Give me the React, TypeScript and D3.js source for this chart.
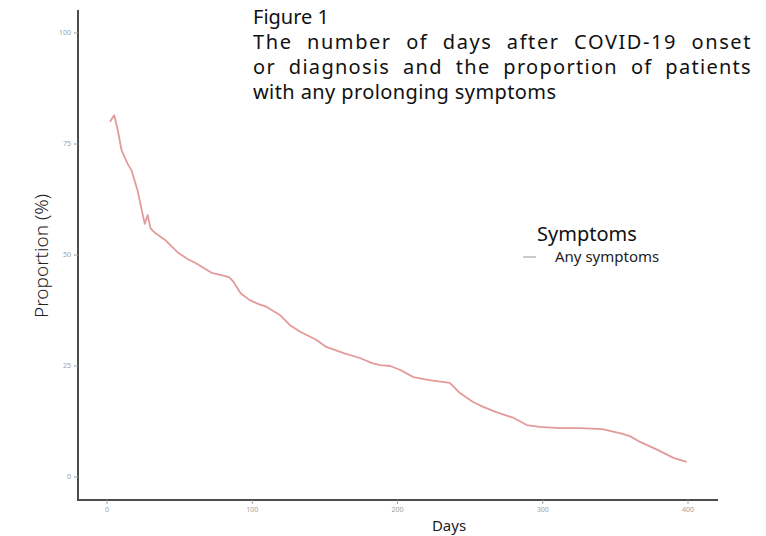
import React, { useLayoutEffect, useRef, useState } from 'react';
import * as d3 from 'd3';

// days after onset / diagnosis
const days = [
  2, 5, 7.5, 10, 14, 17, 21, 24, 26, 28, 30, 33, 40, 49, 56, 61, 66, 72, 78, 84, 87,
  92, 98, 104, 110, 119, 126, 133, 144, 151, 163, 174, 183, 188, 195, 202, 211,
  222, 236, 243, 252, 259, 268, 280, 289, 298, 312, 326, 341, 353, 360, 367, 379,
  390, 399,
];
// proportion (%) with any symptoms
const anySymptoms = [
  80, 81.5, 78, 73.6, 70.7, 69, 64.6, 60, 57, 59, 56, 55, 53.4, 50.5, 49, 48.2, 47.2,
  46, 45.5, 45, 44, 41.4, 39.9, 39, 38.3, 36.5, 34.2, 32.7, 30.9, 29.3, 27.9, 26.8,
  25.6, 25.2, 25.0, 24.1, 22.5, 21.8, 21.2, 18.9, 16.9, 15.8, 14.6, 13.3, 11.7, 11.3,
  11, 11, 10.8, 9.9, 9.2, 7.9, 6.1, 4.3, 3.4,
];
const xTicks = [0, 100, 200, 300, 400];
const yTicks = [0, 25, 50, 75, 100];
const titleLines = [
  'Figure 1',
  'The number of days after COVID-19 onset',
  'or diagnosis and the proportion of patients',
  'with any prolonging symptoms',
];
const justified = [false, true, true, false];

const W = 766;
const H = 536;
const font = '"Noto Sans", "Open Sans", sans-serif';
const baseLS = 0.4;

export default function App() {
  const titleRefs = useRef<(SVGTextElement | null)[]>([]);
  const [fit, setFit] = useState<{ ls: number; ws: number }[]>(
    titleLines.map((_, i) => ({ ls: i === 0 ? 0 : baseLS, ws: 0 }))
  );

  // justify lines 2-3: share the extra width between letters and word gaps
  useLayoutEffect(() => {
    const f = titleLines.map((l, i) => {
      const el = titleRefs.current[i];
      if (!justified[i] || !el) return { ls: i === 0 ? 0 : baseLS, ws: 0 };
      const extra = Math.max(0, 499 - el.getComputedTextLength());
      const gaps = l.split(' ').length - 1;
      return { ls: baseLS + (extra * 0.5) / l.length, ws: (extra * 0.5) / gaps };
    });
    setFit(f);
  }, []);

  const x = d3.scaleLinear().domain([0, 400]).range([107, 688]);
  const y = d3.scaleLinear().domain([0, 100]).range([477, 33]);
  const pts = days.map((d, i) => [d, anySymptoms[i]] as [number, number]);
  const line = d3
    .line<[number, number]>()
    .x((d) => x(d[0]))
    .y((d) => y(d[1]));

  const axisColor = '#4d4d4d';
  const tickColor = '#a0a0a0';

  return (
    <svg width={W} height={H} style={{ position: 'absolute', left: 0, top: 0, background: '#fff' }}>
      {/* axes */}
      <line x1={78} x2={78} y1={10} y2={500} stroke={axisColor} strokeWidth={2} />
      <line x1={77} x2={718} y1={500} y2={500} stroke={axisColor} strokeWidth={2} />
      {yTicks.map((t) => (
        <g key={'y' + t}>
          <line x1={74} x2={78} y1={y(t)} y2={y(t)} stroke={tickColor} strokeWidth={1} />
          <text x={71} y={y(t)} dy="0.35em" textAnchor="end" fontSize={7} fill={tickColor} fontFamily={font}>
            {t}
          </text>
        </g>
      ))}
      {xTicks.map((t) => (
        <g key={'x' + t}>
          <line x1={x(t)} x2={x(t)} y1={500} y2={504} stroke={tickColor} strokeWidth={1} />
          <text x={x(t)} y={512} textAnchor="middle" fontSize={7} fill={tickColor} fontFamily={font}>
            {t}
          </text>
        </g>
      ))}

      {/* series */}
      <path d={line(pts) ?? ''} fill="none" stroke="#e39a9a" strokeWidth={1.8} strokeLinejoin="round" />

      {/* axis titles */}
      <text
        transform={`translate(48,256) rotate(-90)`}
        textAnchor="middle"
        fontSize={19}
        fill="#222"
        fontFamily={font}
        fontWeight={300}
      >
        Proportion (%)
      </text>
      <text x={449} y={531} textAnchor="middle" fontSize={15} fill="#222" fontFamily={font}>
        Days
      </text>

      {/* legend */}
      <text x={537} y={241} fontSize={20} fill="#111" fontFamily={font}>
        Symptoms
      </text>
      <line x1={523} x2={536} y1={257} y2={257} stroke="#b9b9b9" strokeWidth={1.5} />
      <text x={555} y={262} fontSize={15} fill="#222" fontFamily={font}>
        Any symptoms
      </text>

      {/* title */}
      {titleLines.map((l, i) => (
        <text
          key={i}
          ref={(el) => {
            titleRefs.current[i] = el;
          }}
          x={253}
          y={24 + i * 25}
          fontSize={20}
          fill="#111"
          fontFamily={font}
          letterSpacing={fit[i].ls}
          wordSpacing={fit[i].ws}
        >
          {l}
        </text>
      ))}
    </svg>
  );
}
